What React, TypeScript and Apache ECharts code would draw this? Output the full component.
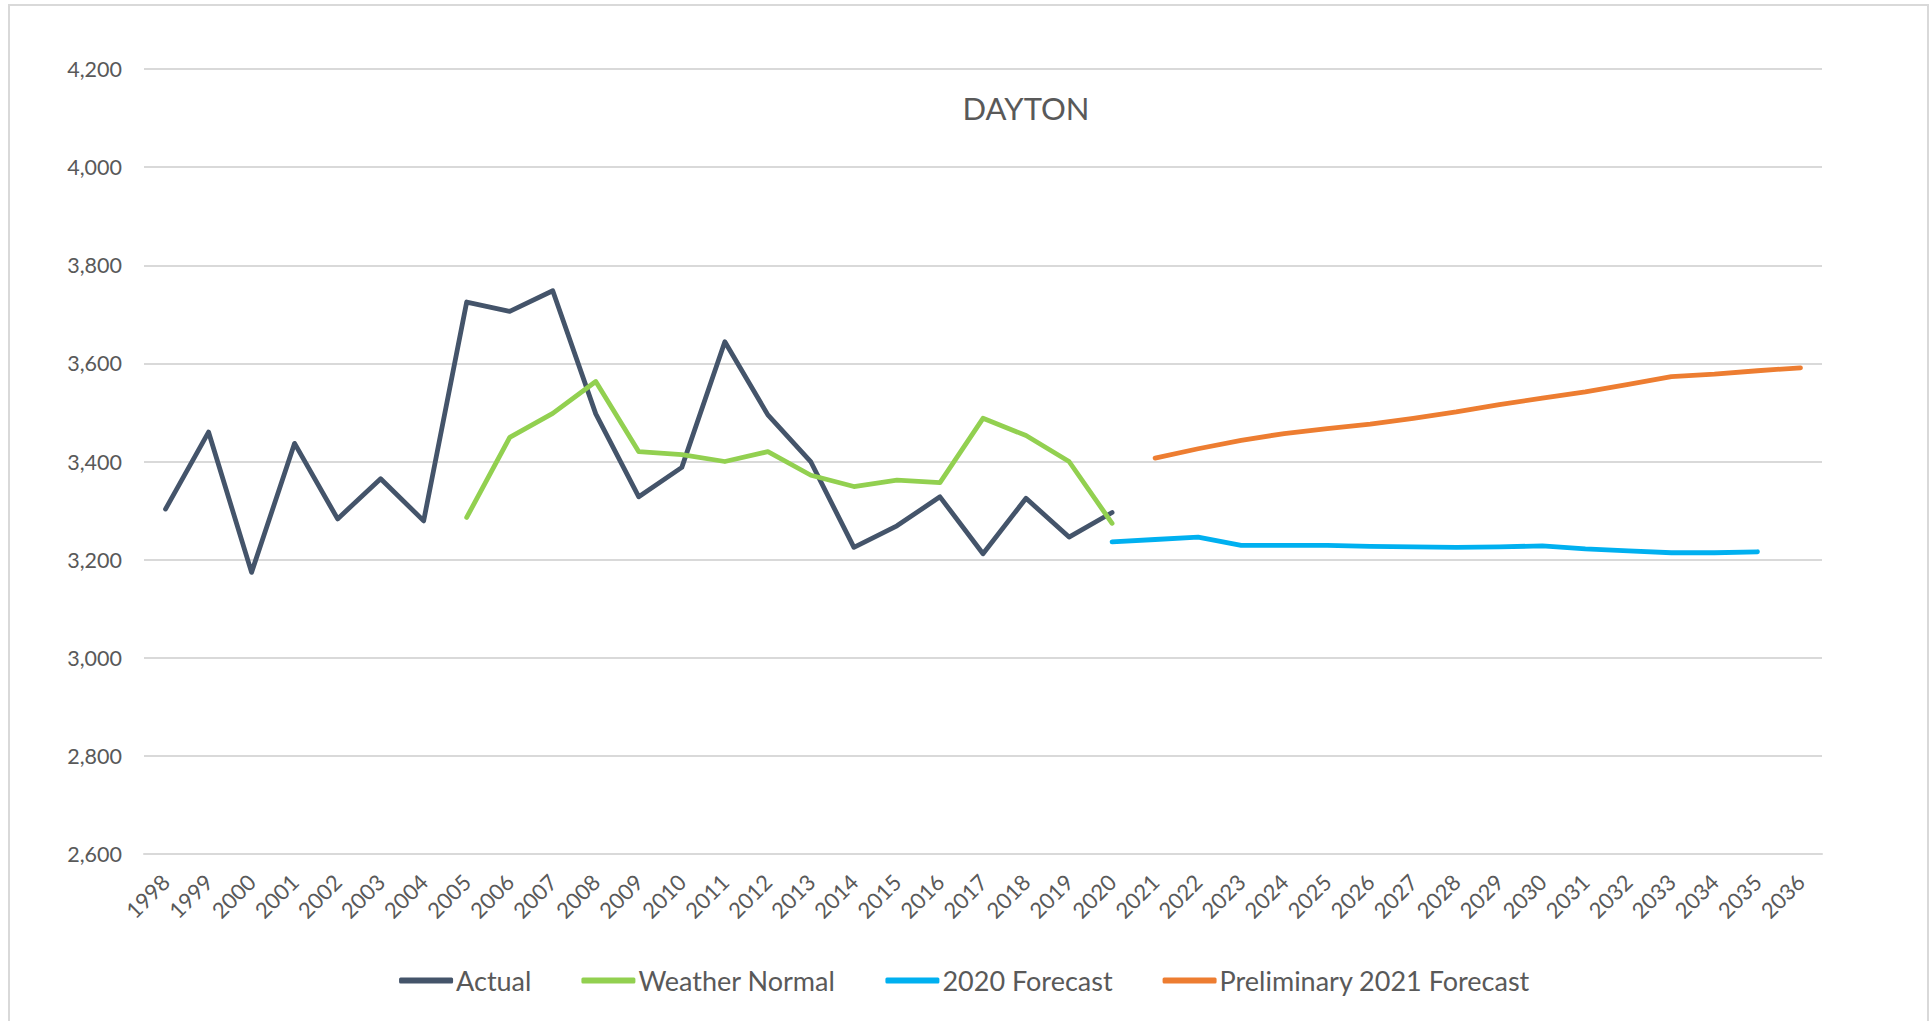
import React, { useEffect, useRef } from "react";
import * as echarts from "echarts";

const years: string[] = [];
for (let y = 1998; y <= 2036; y++) years.push(String(y));

const actual = [3303, 3460, 3174, 3437, 3283, 3365, 3279, 3725, 3706, 3748, 3497, 3328, 3388, 3644, 3495, 3399, 3225, 3269, 3328, 3212, 3325, 3246, 3296];
const weatherNormal = [3286, 3449, 3498, 3563, 3420, 3414, 3400, 3420, 3372, 3349, 3362, 3357, 3488, 3453, 3400, 3274];
const forecast2020 = [3236, 3241, 3246, 3229, 3229, 3229, 3227, 3226, 3225, 3226, 3228, 3222, 3218, 3214, 3214, 3216];
const prelim2021 = [3407, 3426, 3443, 3457, 3467, 3476, 3488, 3501, 3516, 3529, 3542, 3557, 3573, 3578, 3585, 3591];

const yTicks = { min: 2600, max: 4200, step: 200 };

function place(values: number[], startYear: string): (number | null)[] {
  const start = years.indexOf(startYear);
  return years.map((_, i) => {
    const k = i - start;
    return k >= 0 && k < values.length ? values[k] : null;
  });
}

const FONT = "Lato";
const TEXT = "#595959";

export default function App() {
  const ref = useRef<HTMLDivElement>(null);
  useEffect(() => {
    if (!ref.current) return;
    const chart = echarts.init(ref.current, undefined, { renderer: "svg" });
    const line = (name: string, color: string, data: (number | null)[]) => ({
      name,
      type: "line",
      data,
      showSymbol: false,
      symbol: "none",
      connectNulls: false,
      lineStyle: { color, width: 4.8, cap: "round", join: "round" },
      itemStyle: { color },
    });
    chart.setOption({
      animation: false,
      backgroundColor: "#ffffff",
      textStyle: { fontFamily: FONT },
      title: {
        text: "DAYTON",
        left: 1021,
        top: 87,
        textAlign: "center",
        textStyle: { fontFamily: FONT, fontSize: 31, fontWeight: "normal", color: TEXT },
      },
      graphic: [
        {
          type: "rect",
          shape: { x: 9, y: 5, width: 1919, height: 1100 },
          style: { fill: "none", stroke: "#d9d9d9", lineWidth: 2 },
          silent: true,
        },
      ],
      legend: {
        bottom: 22,
        left: "center",
        itemWidth: 54,
        itemHeight: 6,
        itemGap: 50,
        icon: "roundRect",
        textStyle: { fontFamily: FONT, fontSize: 27, color: TEXT, padding: [0, 0, 0, -2] },
        data: ["Actual", "Weather Normal", "2020 Forecast", "Preliminary 2021 Forecast"],
      },
      grid: { left: 144, right: 107, top: 69, bottom: 167, containLabel: false },
      xAxis: {
        type: "category",
        data: years,
        boundaryGap: true,
        axisLine: { show: true, lineStyle: { color: "#d9d9d9", width: 2 } },
        axisTick: { show: false },
        axisLabel: { rotate: 45, fontFamily: FONT, fontSize: 22, color: TEXT, margin: 24, interval: 0 },
      },
      yAxis: {
        type: "value",
        min: yTicks.min,
        max: yTicks.max,
        interval: yTicks.step,
        axisLine: { show: false },
        axisTick: { show: false },
        splitLine: { lineStyle: { color: "#d9d9d9", width: 2 } },
        axisLabel: {
          fontFamily: FONT,
          fontSize: 21.5,
          color: TEXT,
          margin: 22,
          formatter: (v: number) => v.toLocaleString("en-US"),
        },
      },
      series: [
        line("Actual", "#44546A", place(actual, "1998")),
        line("Weather Normal", "#92D050", place(weatherNormal, "2005")),
        line("2020 Forecast", "#00B0F0", place(forecast2020, "2020")),
        line("Preliminary 2021 Forecast", "#ED7D31", place(prelim2021, "2021")),
      ],
    });
    return () => chart.dispose();
  }, []);
  return (
    <div
      ref={ref}
      style={{ position: "absolute", left: 0, top: 0, width: 1929, height: 1021 }}
    />
  );
}
